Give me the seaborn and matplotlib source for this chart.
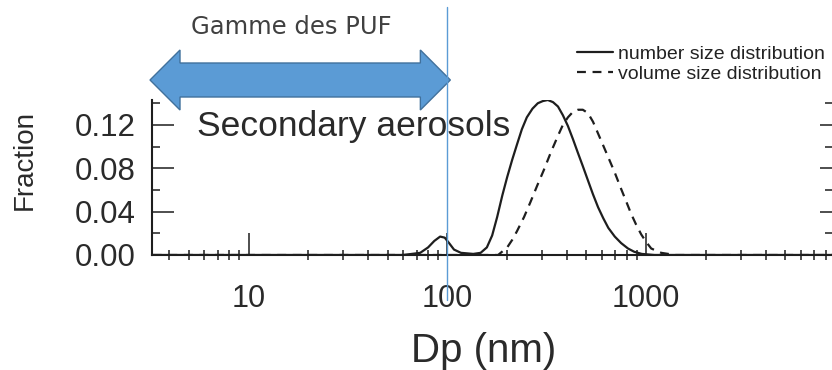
import numpy as np
import pandas as pd
import matplotlib
matplotlib.use("Agg")
import matplotlib.pyplot as plt
import matplotlib.transforms as mtransforms
from matplotlib.patches import Polygon
from matplotlib.lines import Line2D
from matplotlib.ticker import FixedLocator, FixedFormatter, LogLocator, NullFormatter, MultipleLocator
import seaborn as sns

# ---------------- data ----------------
number_dp = [3.3, 30, 60, 73, 80, 86, 92, 97, 102, 108, 117, 135, 147, 158, 168, 178,
             189, 200, 212, 224, 237, 251, 268, 285, 302, 320, 340, 360, 381, 404, 428,
             454, 480, 509, 540, 573, 608, 645, 695, 748, 810, 870, 950, 1100, 8600]
number_frac = [0.0, 0.0, 0.0, 0.002, 0.007, 0.013, 0.017, 0.016, 0.011, 0.005, 0.002,
               0.001, 0.002, 0.007, 0.018, 0.035, 0.055, 0.072, 0.088, 0.102, 0.116, 0.127,
               0.135, 0.140, 0.142, 0.143, 0.141, 0.137, 0.129, 0.119, 0.107, 0.094, 0.082,
               0.069, 0.056, 0.044, 0.034, 0.025, 0.017, 0.011, 0.006, 0.003, 0.001, 0.0, 0.0]

volume_dp = [3.3, 180, 200, 212, 224, 243, 262, 283, 305, 332, 360, 381, 404, 428, 454,
             480, 509, 540, 573, 608, 645, 695, 748, 795, 840, 890, 944, 1000, 1060, 1190,
             1400, 8600]
volume_frac = [0.0, 0.0, 0.007, 0.014, 0.022, 0.035, 0.049, 0.064, 0.078, 0.095, 0.110,
               0.120, 0.127, 0.132, 0.134, 0.134, 0.131, 0.123, 0.112, 0.101, 0.090, 0.076,
               0.061, 0.049, 0.038, 0.028, 0.019, 0.012, 0.006, 0.002, 0.0, 0.0]

series_labels = ["number size distribution", "volume size distribution"]
x_ticks = [10, 100, 1000]
x_tick_labels = ["10", "100", "1000"]
y_ticks = [0.00, 0.04, 0.08, 0.12]
y_tick_labels = ["0.00", "0.04", "0.08", "0.12"]
x_title = "Dp (nm)"
y_title = "Fraction"
panel_title = "Secondary aerosols"
range_label = "Gamme des PUF"
range_end = 100          # upper bound of the ultrafine range (nm)
x_limits = [3.27, 8600]
y_limits = [0.0, 0.143]

# ---------------- styling ----------------
sns.set_theme(style="white")
plt.rcParams['font.family'] = ['Liberation Sans', 'DejaVu Sans']
ink = "#1e1e1e"
txt = "#2a2a2a"
blue = "#5B9BD5"
blue_edge = "#41719C"

W, H = 832, 370
fig = plt.figure(figsize=(W / 100, H / 100), dpi=100)
ax = fig.add_axes([152 / W, 1 - 255 / H, (832 - 152) / W, 155 / H])
ax.set_facecolor("none")

df_num = pd.DataFrame({"dp": number_dp, "frac": number_frac})
df_vol = pd.DataFrame({"dp": volume_dp, "frac": volume_frac})

sns.lineplot(data=df_num, x="dp", y="frac", ax=ax, color=ink, lw=1.6,
             label=series_labels[0], sort=False)
sns.lineplot(data=df_vol, x="dp", y="frac", ax=ax, color=ink, lw=1.6,
             label=series_labels[1], sort=False, dashes=False)
ax.lines[1].set_linestyle((0, (4, 3)))

ax.set_xscale("log")
ax.set_xlim(*x_limits)
ax.set_ylim(*y_limits)

ax.xaxis.set_major_locator(FixedLocator(x_ticks))
ax.xaxis.set_major_formatter(FixedFormatter(x_tick_labels))
ax.xaxis.set_minor_locator(LogLocator(base=10, subs=np.arange(2, 10), numticks=20))
ax.xaxis.set_minor_formatter(NullFormatter())
ax.yaxis.set_major_locator(FixedLocator(y_ticks))
ax.yaxis.set_major_formatter(FixedFormatter(y_tick_labels))
ax.yaxis.set_minor_locator(MultipleLocator(0.02))

ax.tick_params(axis="x", which="major", direction="in", length=16, width=1.1,
               pad=21, labelsize=22, color=ink, labelcolor=txt, bottom=True)
ax.tick_params(axis="x", which="minor", direction="inout", length=7, width=1.1,
               color=ink, bottom=True)
ax.tick_params(axis="y", which="major", direction="in", length=16, width=1.1,
               pad=11.5, labelsize=22.5, color=ink, labelcolor=txt, left=True)
ax.tick_params(axis="y", which="minor", direction="in", length=6, width=1.1,
               color=ink, left=True)

for s in ["top", "right"]:
    ax.spines[s].set_visible(False)
for s in ["left", "bottom"]:
    ax.spines[s].set_color(ink)
    ax.spines[s].set_linewidth(1.5)

# right-side ticks
axr = ax.twinx()
axr.set_ylim(*y_limits)
axr.yaxis.set_major_locator(FixedLocator(y_ticks))
axr.yaxis.set_minor_locator(MultipleLocator(0.02))
axr.yaxis.set_major_formatter(NullFormatter())
axr.tick_params(axis="y", which="major", direction="in", length=8.6, width=1.1, color=ink, right=True)
axr.tick_params(axis="y", which="minor", direction="in", length=5, width=1.1, color=ink, right=True)
for s in axr.spines.values():
    s.set_visible(False)
axr.grid(False)

ax.set_xlabel(x_title, fontsize=29, color=txt)
ax.xaxis.set_label_coords(0.487, -0.50)
ax.set_ylabel(y_title, fontsize=20, color=txt)
ax.yaxis.set_label_coords(-0.168, 0.613)

ax.text(0.066, 0.826, panel_title, transform=ax.transAxes, ha="left", va="center",
        fontsize=25.5, color=txt)

# legend above the plot, top right
handles, labels = ax.get_legend_handles_labels()
if ax.get_legend() is not None:
    ax.get_legend().remove()
leg = fig.legend(handles, labels, loc="upper right", bbox_to_anchor=(825 / W, 1 - 45 / H),
                 frameon=False, fontsize=14, handlelength=1.85, handletextpad=0.25,
                 labelspacing=0.12, borderpad=0, borderaxespad=0)
for t in leg.get_texts():
    t.set_color("#222222")

# ---------------- ultrafine range overlay ----------------
fig.canvas.draw()
xl = ax.transData.transform((x_limits[0], 0))[0] - 2
xr = ax.transData.transform((range_end, 0))[0] + 3
yc = H - 80
hl, hh, sh = 30, 30, 17
pts = [(xl, yc), (xl + hl, yc + hh), (xl + hl, yc + sh), (xr - hl, yc + sh),
       (xr - hl, yc + hh), (xr, yc), (xr - hl, yc - hh), (xr - hl, yc - sh),
       (xl + hl, yc - sh), (xl + hl, yc - hh)]
pts = [(px / W, py / H) for px, py in pts]
fig.add_artist(Polygon(pts, closed=True, transform=fig.transFigure, facecolor=blue,
                       edgecolor=blue_edge, lw=1.0, zorder=5))

vtrans = mtransforms.blended_transform_factory(ax.transData, fig.transFigure)
fig.add_artist(Line2D([range_end, range_end], [1 - 300 / H, 1 - 7 / H], transform=vtrans,
                      color=blue, lw=1.0, zorder=6))

fig.text(291 / W, 1 - 27 / H, range_label, ha="center", va="center", fontsize=17.5,
         color="#404040", family=["DejaVu Sans"])

fig.savefig("out.png", dpi=100)
